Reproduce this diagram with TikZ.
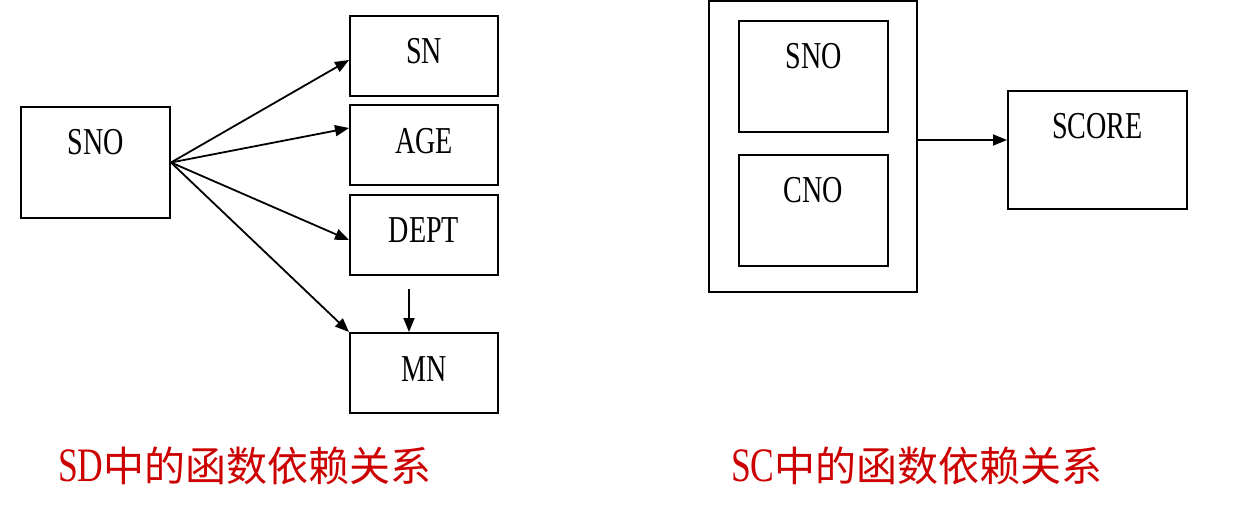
\documentclass[tikz,border=0pt]{standalone}
\usepackage{fontspec}
\setmainfont{Liberation Serif}[FakeStretch=0.74]
\newfontfamily\cjk{Noto Sans CJK SC}
\usetikzlibrary{arrows.meta,calc}
\definecolor{capred}{RGB}{204,0,0}
\begin{document}
\begin{tikzpicture}[x=1pt,y=-1pt,
  box/.style={draw=black,line width=2pt,rectangle,inner sep=0pt},
  lbl/.style={inner sep=0pt,anchor=base,font=\fontsize{38}{38}\selectfont},
  arr/.style={line width=1.8pt,-{Triangle[length=14pt,width=11pt]}},
  captext/.style={inner sep=0pt,anchor=base west,text=capred}]
\useasboundingbox (0,0) rectangle (1250,512);
% left diagram
\node[box,minimum width=149pt,minimum height=111pt] (sno) at (95.5,162.5) {};
\node[lbl] (snot) at (95.5,154) {SNO};
\node[box,minimum width=148pt,minimum height=80pt] (sn) at (424,56) {};
\node[lbl] (snt) at (424,63) {SN};
\node[box,minimum width=148pt,minimum height=80pt] (age) at (424,145) {};
\node[lbl] (aget) at (424,153) {AGE};
\node[box,minimum width=148pt,minimum height=80pt] (dept) at (424,235) {};
\node[lbl] (deptt) at (424,242) {DEPT};
\node[box,minimum width=148pt,minimum height=80pt] (mn) at (424,373) {};
\node[lbl] (mnt) at (424,381) {MN};
\draw[arr] (sno.east) -- ($(sn.west)+(0,4)$);
\draw[arr] (sno.east) -- ($(age.west)+(0,-17)$);
\draw[arr] (sno.east) -- ($(dept.west)+(0,5)$);
\draw[arr] (sno.east) -- (mn.north west);
\coordinate (dm) at ($(dept.south)+(-15,13)$);
\draw[arr] (dm) -- (dm |- mn.north);
% right diagram
\node[box,minimum width=208pt,minimum height=291pt] (outer) at (813,146.5) {};
\node[box,minimum width=149pt,minimum height=111pt] (isno) at (813.5,76.5) {};
\node[lbl] (isnot) at (813.5,68) {SNO};
\node[box,minimum width=149pt,minimum height=111pt] (icno) at (813.5,210.5) {};
\node[lbl] (icnot) at (813.5,202) {CNO};
\node[box,minimum width=179pt,minimum height=118pt] (score) at (1097.5,150) {};
\node[lbl] (scoret) at (1097.5,138) {SCORE};
\draw[arr] ($(outer.east)+(0,-6.5)$) -- ($(score.west)+(0,-10)$);
% captions
\node[captext] (capl) at (58,481) {\fontsize{48}{48}\selectfont SD\cjk\fontsize{41}{41}\selectfont 中的函数依赖关系};
\node[captext] (capr) at (731,481) {\fontsize{48}{48}\selectfont SC\cjk\fontsize{41}{41}\selectfont 中的函数依赖关系};
\end{tikzpicture}
\end{document}
